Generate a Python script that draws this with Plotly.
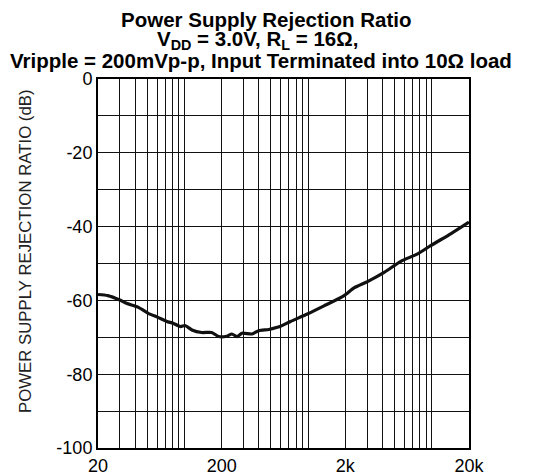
import plotly.graph_objects as go

# Data
freq_hz = [20, 24, 30, 34, 42.5, 51, 61, 72, 81, 93, 101, 115, 138, 166, 189, 220, 242, 266,
           292, 352, 399, 481, 564, 600, 721, 986, 1344, 1955, 2352, 3020, 4122, 5625,
           7690, 9860, 14330, 20000]
psrr_db = [-58.4, -58.7, -59.9, -60.8, -61.9, -63.5, -64.6, -65.7, -66.2, -67.1, -66.8, -68.0,
           -68.7, -68.7, -69.8, -69.7, -69.1, -69.8, -68.9, -69.1, -68.2, -67.9, -67.3, -67.0,
           -65.7, -63.7, -61.5, -58.7, -56.6, -54.9, -52.4, -49.4, -47.4, -45.1, -41.9, -38.8]

x_grid = [20, 30, 40, 50, 60, 70, 80, 90, 100, 200, 300, 400, 500, 600, 700, 800, 900, 1000,
          2000, 3000, 4000, 5000, 6000, 7000, 8000, 9000, 10000, 20000]
x_labels = {20: "20", 200: "200", 2000: "2k", 20000: "20k"}
x_ticktext = [x_labels.get(v, "") for v in x_grid]

y_grid = [-100, -90, -80, -70, -60, -50, -40, -30, -20, -10, 0]
y_ticktext = [str(v) if v % 20 == 0 else "" for v in y_grid]

title_lines = [
    "Power Supply Rejection Ratio",
    "V<sub>DD</sub> = 3.0V, R<sub>L</sub> = 16Ω,",
    "Vripple = 200mVp-p, Input Terminated into 10Ω load",
]
y_title = "POWER SUPPLY REJECTION RATIO (dB)"

FONT = "Liberation Sans, Arial, sans-serif"
# page body has an 8px margin; figure occupies page pixels 8..542 x 8..474
OFF = 8
W, H = 542 - OFF, 474 - OFF
L, R, T, B = 98 - OFF, 73, 79 - OFF, 26
pw, ph = W - L - R, H - T - B

fig = go.Figure()
fig.add_trace(go.Scatter(x=freq_hz, y=psrr_db, mode="lines",
                         line=dict(color="#111111", width=3.2, shape="spline", smoothing=0.6),
                         showlegend=False, hoverinfo="skip"))

fig.update_xaxes(type="log", range=[1.30103, 4.30103], tickvals=x_grid, ticktext=x_ticktext,
                 showgrid=True, gridcolor="#111111", gridwidth=1.3, ticks="",
                 showline=True, linecolor="black", linewidth=2, mirror=True,
                 tickfont=dict(family=FONT, size=18, color="black"), automargin=False,
                 zeroline=False)
fig.update_yaxes(range=[-100, 0], tickvals=y_grid, ticktext=y_ticktext,
                 showgrid=True, gridcolor="#111111", gridwidth=1.3, ticks="",
                 showline=True, linecolor="black", linewidth=2, mirror=True,
                 tickfont=dict(family=FONT, size=18, color="black"), automargin=False,
                 zeroline=False)

def px_x(x):
    return (x - OFF - L) / pw

def px_y(y):
    return (H - B - (y - OFF)) / ph

annos = []
for txt, cx, cy in zip(title_lines, [266, 257, 261], [20, 40, 60]):
    annos.append(dict(text="<b>" + txt + "</b>", x=px_x(cx), y=px_y(cy), xref="paper", yref="paper",
                      xanchor="center", yanchor="middle", showarrow=False,
                      font=dict(family=FONT, size=20.5, color="black")))
annos.append(dict(text=y_title, x=px_x(25), y=px_y(251), xref="paper", yref="paper",
                  xanchor="center", yanchor="middle", showarrow=False, textangle=-90,
                  font=dict(family=FONT, size=16.8, color="#222222")))

fig.update_layout(width=W, height=H, margin=dict(l=L, r=R, t=T, b=B),
                  paper_bgcolor="white", plot_bgcolor="white", annotations=annos)

fig.write_html("out.html")
